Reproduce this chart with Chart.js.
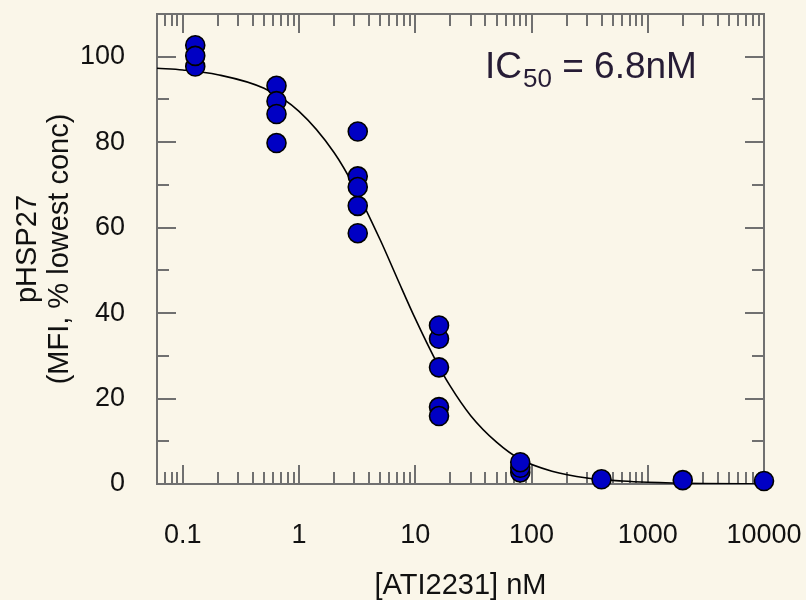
<!DOCTYPE html>
<html>
<head>
<meta charset="utf-8">
<script src="https://cdn.jsdelivr.net/npm/chart.js@4.4.0/dist/chart.umd.min.js"></script>
<style>
  html, body { margin: 0; padding: 0; background: #faf6e9; }
  #wrap { width: 806px; height: 600px; }
</style>
</head>
<body>
<div id="wrap"><canvas id="c" width="806" height="600"></canvas></div>
<script>
// measured points (conc nM, % lowest conc) - draw order matters for overlaps
const pointConc = [0.128, 0.128, 0.128,
                   0.64, 0.64, 0.64, 0.64,
                   3.2, 3.2, 3.2, 3.2, 3.2,
                   16, 16, 16, 16, 16,
                   80, 80, 80,
                   400, 2000, 10000];
const pointResp = [102.7, 97.7, 100.2,
                   93.2, 89.6, 86.6, 79.8,
                   82.5, 72.0, 65.1, 69.5, 58.7,
                   34.0, 37.1, 27.3, 18.0, 15.9,
                   2.7, 3.8, 5.1,
                   1.1, 0.9, 0.7];

// fitted curve
const curveConc = [0.06, 0.1, 0.2, 0.5, 1, 2, 3, 5, 7, 10, 15, 20, 30, 50, 80, 150, 300, 600, 1000, 3000, 10000];
const curveResp = [97.3, 96.9, 95.8, 92.6, 87.2, 77.6, 69.5, 57.1, 48.1, 38.7, 28.9, 22.9, 16.0, 9.8, 5.8, 3.0, 1.4, 0.7, 0.4, 0.1, 0.0];

// axis ticks
const xTickValues = [0.1, 1, 10, 100, 1000, 10000];
const xTickLabels = ['0.1', '1', '10', '100', '1000', '10000'];
const yTickValues = [0, 20, 40, 60, 80, 100];
const yTickLabels = ['0', '20', '40', '60', '80', '100'];

const FONT = '"Liberation Sans", Arial, Helvetica, sans-serif';
const AXIS_COLOR = '#707070';
Chart.defaults.font.family = FONT;
Chart.defaults.color = '#111111';

// 枠と内向きの目盛り
const frameTicks = {
  id: 'frameTicks',
  beforeDatasetsDraw(chart) {
    const ctx = chart.ctx;
    const a = chart.chartArea;
    const xs = chart.scales.x;
    const ys = chart.scales.y;
    const MAJ = 19, MIN = 12;
    ctx.save();
    ctx.strokeStyle = AXIS_COLOR;
    ctx.lineWidth = 2;
    ctx.strokeRect(a.left, a.top, a.right - a.left, a.bottom - a.top);
    ctx.beginPath();
    for (let e = -2; e <= 4; e++) {
      for (let m = 1; m <= 9; m++) {
        const v = m * Math.pow(10, e);
        if (v < xs.min * 0.999 || v > xs.max * 1.001) continue;
        const px = Math.round(xs.getPixelForValue(v));
        const len = m === 1 ? MAJ : MIN;
        ctx.moveTo(px, a.bottom); ctx.lineTo(px, a.bottom - len);
        ctx.moveTo(px, a.top); ctx.lineTo(px, a.top + len);
      }
    }
    for (let v = 0; v <= 110; v += 10) {
      const py = Math.round(ys.getPixelForValue(v));
      const len = v % 20 === 0 ? MAJ : MIN;
      ctx.moveTo(a.left, py); ctx.lineTo(a.left + len, py);
      ctx.moveTo(a.right, py); ctx.lineTo(a.right - len, py);
    }
    ctx.stroke();
    ctx.restore();
  },
  afterDraw(chart) {
    // IC50 の注記
    const ctx = chart.ctx;
    const a = chart.chartArea;
    let x = a.left + 328;
    const base = a.top + 64;
    ctx.save();
    ctx.fillStyle = '#261c35';
    ctx.textBaseline = 'alphabetic';
    ctx.font = '37px ' + FONT;
    ctx.fillText('IC', x, base);
    x += ctx.measureText('IC').width + 1;
    ctx.font = '26px ' + FONT;
    ctx.fillText('50', x, base + 9);
    x += ctx.measureText('50').width;
    ctx.font = '37px ' + FONT;
    ctx.fillText(' = 6.8nM', x, base);
    ctx.restore();
  }
};

const bgPlugin = {
  id: 'bg',
  beforeDraw(chart) {
    const ctx = chart.ctx;
    ctx.save();
    ctx.fillStyle = '#faf6e9';
    ctx.fillRect(0, 0, chart.width, chart.height);
    ctx.restore();
  }
};

// 軸の余白をなくして枠の位置を固定
function noPad(s) {
  s.paddingLeft = 0; s.paddingRight = 0;
  s.paddingTop = 0; s.paddingBottom = 0;
}

new Chart(document.getElementById('c'), {
  type: 'scatter',
  data: {
    datasets: [
      {
        label: 'fit',
        data: curveConc.map((x, i) => ({ x: x, y: curveResp[i] })),
        showLine: true,
        borderColor: '#000000',
        borderWidth: 1.6,
        pointRadius: 0,
        cubicInterpolationMode: 'monotone',
        order: 2
      },
      {
        label: 'pHSP27',
        data: pointConc.map((x, i) => ({ x: x, y: pointResp[i] })),
        backgroundColor: '#0000c4',
        borderColor: '#000000',
        borderWidth: 1.6,
        pointRadius: 9.5,
        clip: false,
        order: 1
      }
    ]
  },
  options: {
    responsive: false,
    animation: false,
    layout: { autoPadding: false, padding: { top: 14, right: 42, left: 0, bottom: 0 } },
    plugins: { legend: { display: false }, tooltip: { enabled: false } },
    scales: {
      x: {
        type: 'logarithmic',
        min: 0.06,
        max: 10000,
        grid: { display: false, drawTicks: false },
        border: { display: false },
        afterBuildTicks: (s) => { s.ticks = xTickValues.map(v => ({ value: v })); },
        afterFit: (s) => { s.height = 116; noPad(s); },
        ticks: {
          autoSkip: false,
          maxRotation: 0,
          padding: 35,
          font: { size: 27 },
          callback: (v, i) => xTickLabels[i]
        },
        title: {
          display: true,
          text: '[ATI2231] nM',
          font: { size: 29, lineHeight: 1.0 },
          padding: { top: 0, bottom: 0 }
        }
      },
      y: {
        min: 0,
        max: 110,
        grid: { display: false, drawTicks: false },
        border: { display: false },
        afterBuildTicks: (s) => { s.ticks = yTickValues.map(v => ({ value: v })); },
        afterFit: (s) => { s.width = 157; noPad(s); },
        ticks: {
          padding: 32,
          font: { size: 27 },
          callback: (v, i) => yTickLabels[i]
        },
        title: {
          display: true,
          text: ['pHSP27', '(MFI, % lowest conc)'],
          font: { size: 29, lineHeight: 1.1 },
          padding: { top: 12, bottom: 0 }
        }
      }
    }
  },
  plugins: [bgPlugin, frameTicks]
});
</script>
</body>
</html>
